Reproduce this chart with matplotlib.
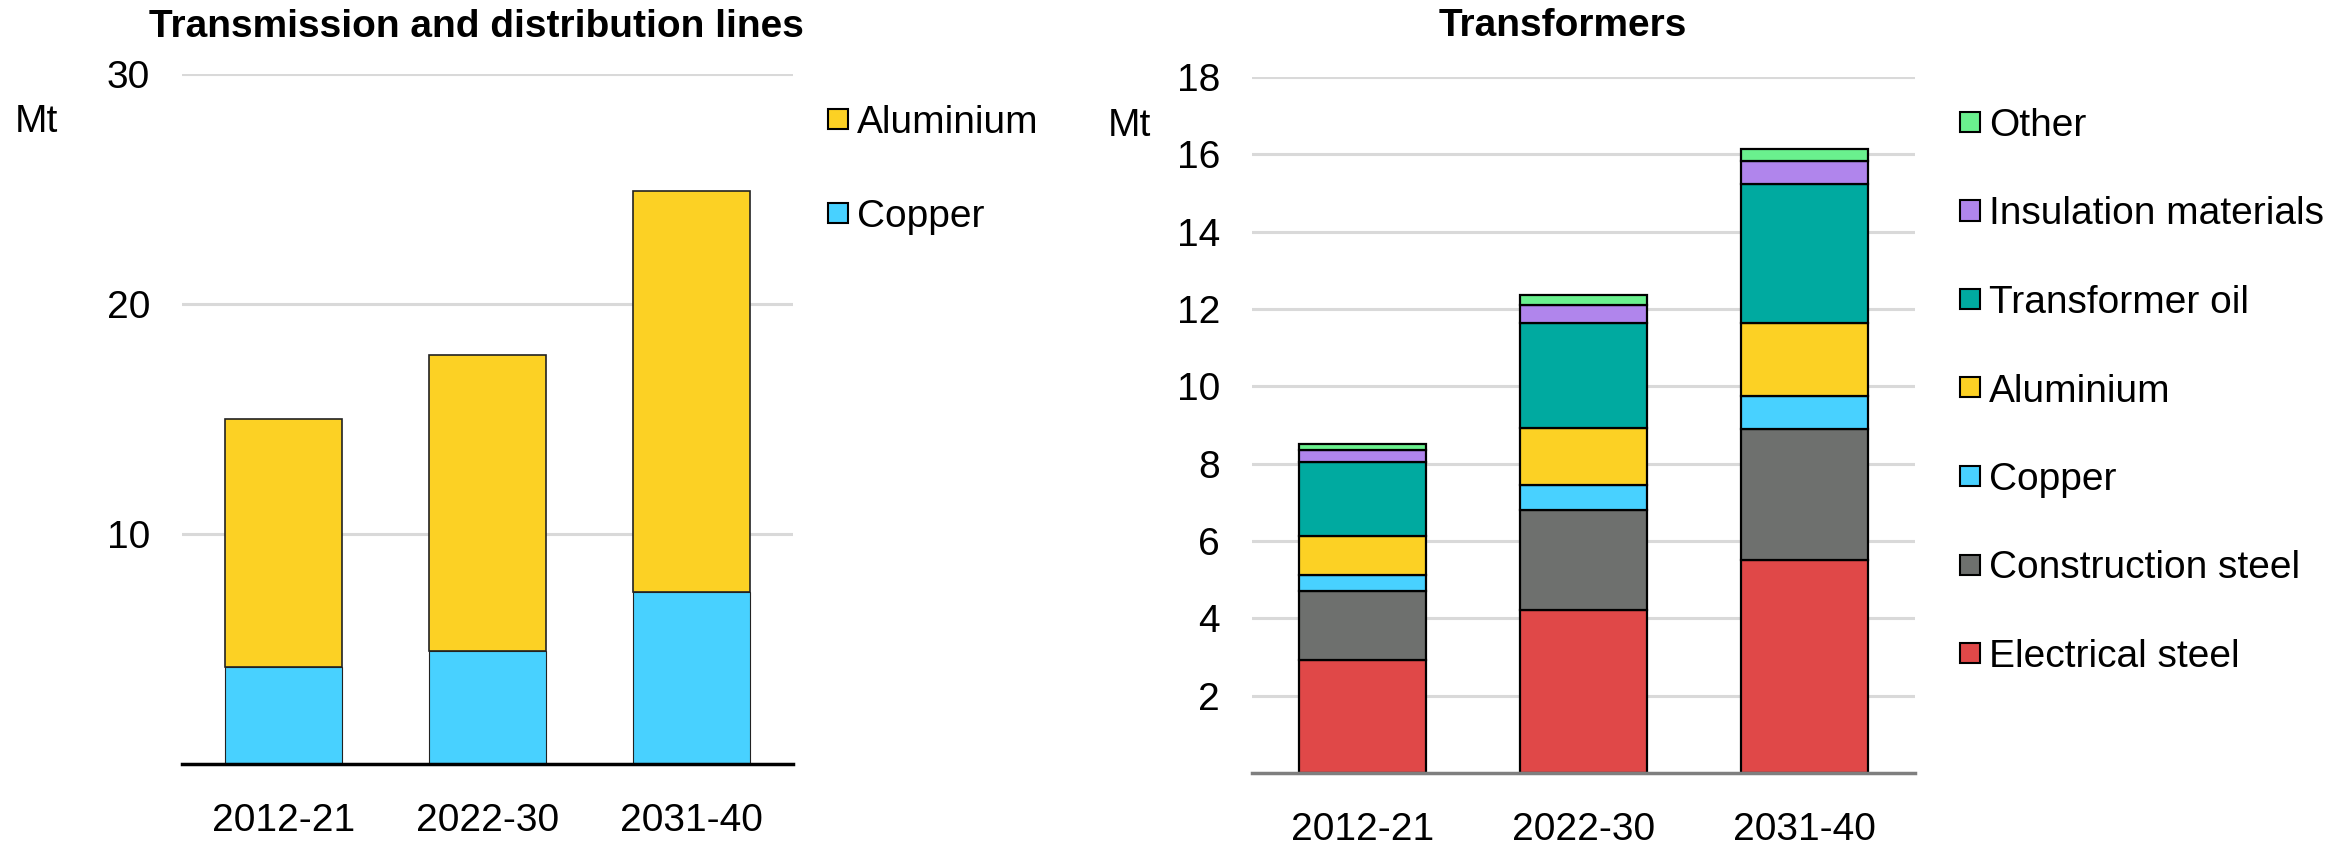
import matplotlib
matplotlib.use("Agg")
import matplotlib.pyplot as plt
from matplotlib.patches import Rectangle

plt.rcParams['font.family'] = ['Liberation Sans', 'DejaVu Sans']

periods = ["2012-21", "2022-30", "2031-40"]

# Transmission and distribution lines (Mt)
td_copper = [4.2, 4.9, 7.5]
td_aluminium = [10.8, 12.9, 17.4]

# Transformers (Mt)
tr_electrical_steel = [2.93, 4.21, 5.52]
tr_construction_steel = [1.77, 2.59, 3.38]
tr_copper = [0.41, 0.65, 0.85]
tr_aluminium = [1.03, 1.46, 1.89]
tr_transformer_oil = [1.90, 2.74, 3.58]
tr_insulation = [0.32, 0.46, 0.60]
tr_other = [0.15, 0.25, 0.33]

C_YELLOW = "#FCD124"
C_CYAN = "#48D1FF"
C_RED = "#E04848"
C_GRAY = "#6E706E"
C_TEAL = "#00AAA0"
C_PURPLE = "#B085EC"
C_GREEN = "#6AF08E"

W, H = 2351, 841
DPI = 100
fig = plt.figure(figsize=(W / DPI, H / DPI), dpi=DPI)

FS = 28
HALF_CAP = 14

def fx(px):
    return px / W

def fy(py):
    return 1 - py / H

def style_axes(ax, ymax, step, base_color, base_lw):
    ax.set_xlim(-0.5, 2.5)
    ax.set_ylim(0, ymax)
    ax.set_yticks(range(step, ymax + 1, step))
    ax.set_xticks(range(len(periods)))
    ax.set_xticklabels(periods)
    for s in ["top", "right", "left"]:
        ax.spines[s].set_visible(False)
    ax.spines["bottom"].set_color(base_color)
    ax.spines["bottom"].set_linewidth(base_lw)
    ax.spines["bottom"].set_zorder(5)
    ax.tick_params(axis="both", length=0, labelsize=FS)
    ax.tick_params(axis="y", pad=23)
    ax.tick_params(axis="x", pad=28)
    ax.grid(axis="y", color="#D9D9D9", linewidth=2.2)
    ax.set_axisbelow(True)

# ---- Left chart ----
ax1 = fig.add_axes([fx(182), fy(764), fx(793 - 182), (764 - 74) / H])
x = list(range(len(periods)))
bw1 = 0.574
ax1.bar(x, td_copper, width=bw1, color=C_CYAN, edgecolor="#222222", linewidth=0.8, zorder=3)
ax1.bar(x, td_aluminium, width=bw1, bottom=td_copper, color=C_YELLOW, edgecolor="#222222", linewidth=1.2, zorder=3)
style_axes(ax1, 30, 10, "black", 2.5)

# ---- Right chart ----
ax2 = fig.add_axes([fx(1252), fy(773), fx(1915 - 1252), (773 - 77) / H])
bw2 = 0.572
series = [
    ("Electrical steel", tr_electrical_steel, C_RED),
    ("Construction steel", tr_construction_steel, C_GRAY),
    ("Copper", tr_copper, C_CYAN),
    ("Aluminium", tr_aluminium, C_YELLOW),
    ("Transformer oil", tr_transformer_oil, C_TEAL),
    ("Insulation materials", tr_insulation, C_PURPLE),
    ("Other", tr_other, C_GREEN),
]
bottom = [0.0] * len(periods)
for name, vals, col in series:
    ax2.bar(x, vals, width=bw2, bottom=bottom, color=col, edgecolor="black", linewidth=1.6, zorder=3)
    bottom = [b + v for b, v in zip(bottom, vals)]
style_axes(ax2, 18, 2, "#7F7F7F", 2.5)

# ---- Titles ----
fig.text(fx(476), fy(37), "Transmission and distribution lines", ha="center", va="baseline",
         fontsize=FS, fontweight="bold")
fig.text(fx(1563), fy(36), "Transformers", ha="center", va="baseline",
         fontsize=FS, fontweight="bold")

# ---- Units ----
fig.text(fx(15), fy(118 + HALF_CAP), "Mt", ha="left", va="baseline", fontsize=FS)
fig.text(fx(1108), fy(122 + HALF_CAP), "Mt", ha="left", va="baseline", fontsize=FS)

# ---- Legends ----
def legend_entry(xpx, ypx, label, color):
    fig.patches.append(Rectangle((fx(xpx), fy(ypx + 10)), fx(20), 20 / H,
                                 transform=fig.transFigure, facecolor=color,
                                 edgecolor="black", linewidth=1.5))
    fig.text(fx(xpx + 29), fy(ypx + HALF_CAP), label, ha="left", va="baseline", fontsize=FS)

legend_entry(828, 119, "Aluminium", C_YELLOW)
legend_entry(828, 213, "Copper", C_CYAN)

for i, (name, vals, col) in enumerate(reversed(series)):
    legend_entry(1960, 122 + i * 88.5, name, col)

fig.savefig("out.png", dpi=DPI)
